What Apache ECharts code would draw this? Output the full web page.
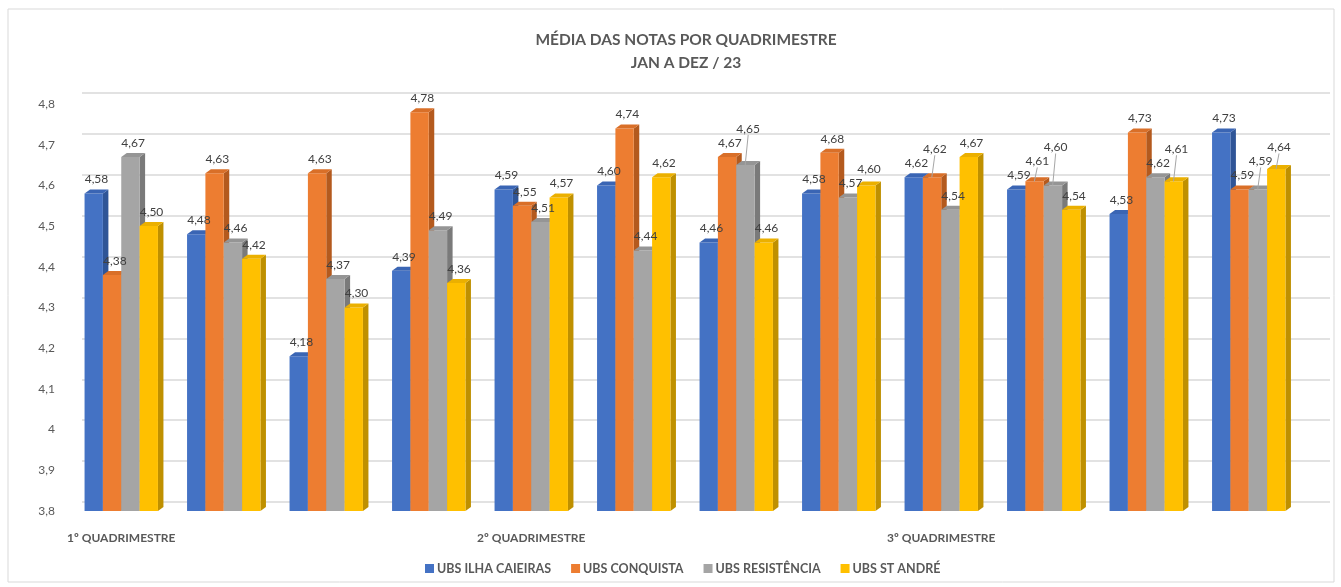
<!DOCTYPE html>
<html>
<head>
<meta charset="utf-8">
<title>Média das notas por quadrimestre</title>
<script src="https://cdn.jsdelivr.net/npm/echarts@6/dist/echarts.min.js"></script>
<style>
  html, body { margin: 0; padding: 0; background: #fff; }
  #chart { width: 1341px; height: 587px; }
</style>
</head>
<body>
<div id="chart"></div>
<script>
// categorias (meses), so alguns recebem o nome do quadrimestre
var categories = ['1º QUADRIMESTRE', '', '', '', '2º QUADRIMESTRE', '', '', '', '3º QUADRIMESTRE', '', '', ''];

var seriesNames = ['UBS ILHA CAIEIRAS', 'UBS CONQUISTA', 'UBS RESISTÊNCIA', 'UBS ST ANDRÉ'];

var ilhaCaieiras = [4.58, 4.48, 4.18, 4.39, 4.59, 4.60, 4.46, 4.58, 4.62, 4.59, 4.53, 4.73];
var conquista    = [4.38, 4.63, 4.63, 4.78, 4.55, 4.74, 4.67, 4.68, 4.62, 4.61, 4.73, 4.59];
var resistencia  = [4.67, 4.46, 4.37, 4.49, 4.51, 4.44, 4.65, 4.57, 4.54, 4.60, 4.62, 4.59];
var stAndre      = [4.50, 4.42, 4.30, 4.36, 4.57, 4.62, 4.46, 4.60, 4.67, 4.54, 4.61, 4.64];

var yTicks = [3.8, 3.9, 4.0, 4.1, 4.2, 4.3, 4.4, 4.5, 4.6, 4.7, 4.8];

var allSeries = [ilhaCaieiras, conquista, resistencia, stAndre];

// cores: frente, lateral, topo
var colors = [
  ['#4472C4', '#2F5597', '#3A65B4'],
  ['#ED7D31', '#B45A1E', '#D96F28'],
  ['#A5A5A5', '#7A7A7A', '#959595'],
  ['#FFC000', '#BF9000', '#EBB000']
];

var Y_MIN = yTicks[0];
var Y_MAX = yTicks[yTicks.length - 1];
var BAR_RATIO = 0.179;
var DX = 5.5;
var DY = 4;
var FONT = 'Lato, "Open Sans", sans-serif';

function fmt(v) {
  return (+v).toFixed(2).replace('.', ',');
}

let chart = echarts.init(document.getElementById('chart'));

// posicao vertical dos rotulos (evita sobreposicao com a barra vizinha)
function labelYs(api, idx) {
  let ys = [];
  for (let s = 0; s < allSeries.length; s++) {
    let top = api.coord([idx, allSeries[s][idx]])[1];
    let y = top - DY - 4;
    if (s > 0 && Math.abs(y - ys[s - 1]) < 14) {
      y = Math.min(y, ys[s - 1] - 14);
    }
    ys.push(y);
  }
  return ys;
}

function render3dBar(s) {
  return function (params, api) {
    let idx = api.value(0);
    let val = api.value(1);
    let band = api.size([1, 0])[0];
    let bw = band * BAR_RATIO;
    let base = api.coord([idx, Y_MIN]);
    let top = api.coord([idx, val]);
    let x0 = base[0] - 2 * bw + s * bw;
    let x1 = x0 + bw;
    let yt = top[1];
    let yb = base[1];
    let c = colors[s];

    let ys = labelYs(api, idx);
    let ly = ys[s];
    let lx = x0 + bw / 2 + DX / 2;
    let naturalY = yt - DY - 4;

    let children = [
      {
        type: 'polygon',
        shape: { points: [[x1, yt], [x1 + DX, yt - DY], [x1 + DX, yb - DY], [x1, yb]] },
        style: { fill: c[1] }
      },
      {
        type: 'rect',
        shape: { x: x0, y: yt, width: bw, height: yb - yt },
        style: { fill: c[0] }
      },
      {
        type: 'polygon',
        shape: { points: [[x0, yt], [x0 + DX, yt - DY], [x1 + DX, yt - DY], [x1, yt]] },
        style: { fill: c[2] }
      },
      {
        type: 'text',
        z2: 100,
        style: {
          text: fmt(val),
          x: lx,
          y: ly,
          align: 'center',
          verticalAlign: 'bottom',
          fill: '#404040',
          font: '12px ' + FONT
        }
      }
    ];
    if (naturalY - ly > 4) {
      children.push({
        type: 'line',
        z2: 99,
        shape: { x1: lx, y1: ly, x2: lx - 3, y2: yt - DY / 2 + 2 },
        style: { stroke: '#a6a6a6', lineWidth: 1 }
      });
    }
    return { type: 'group', children: children };
  };
}

let series = allSeries.map(function (arr, s) {
  return {
    name: seriesNames[s],
    type: 'custom',
    xAxisIndex: 0,
    yAxisIndex: 0,
    itemStyle: { color: colors[s][0] },
    renderItem: render3dBar(s),
    encode: { x: 0, y: 1 },
    data: arr.map(function (v, i) { return [i, v]; })
  };
});

let option = {
  backgroundColor: '#fff',
  animation: false,
  textStyle: { fontFamily: FONT },
  graphic: [{
    type: 'rect',
    shape: { x: 8, y: 9, width: 1326, height: 573 },
    style: { fill: 'none', stroke: '#d9d9d9', lineWidth: 1 },
    silent: true,
    z: -10
  }],
  title: {
    text: 'MÉDIA DAS NOTAS POR QUADRIMESTRE\nJAN A DEZ / 23',
    left: 681,
    textAlign: 'center',
    top: 23,
    textStyle: {
      fontFamily: FONT,
      fontSize: 15.5,
      fontWeight: 'bold',
      color: '#595959',
      lineHeight: 23
    }
  },
  legend: {
    bottom: 7,
    left: 420,
    icon: 'rect',
    itemWidth: 9,
    itemHeight: 9,
    itemGap: 20,
    textStyle: { fontFamily: FONT, fontSize: 12.5, fontWeight: 'bold', color: '#595959', padding: [0, 0, 0, -2] },
    data: seriesNames
  },
  grid: [
    { left: 70, right: 41, top: 104, bottom: 76 },
    // parede de fundo (linhas de grade deslocadas, efeito 3D)
    { left: 82, right: 11, top: 93, bottom: 85 }
  ],
  xAxis: [
    {
      type: 'category',
      gridIndex: 0,
      data: categories,
      axisLine: { show: false },
      axisTick: { show: false },
      axisLabel: {
        interval: 0,
        margin: 21,
        fontFamily: FONT,
        fontSize: 12,
        fontWeight: 'bold',
        color: '#595959'
      }
    },
    {
      type: 'category',
      gridIndex: 1,
      data: categories,
      show: false
    }
  ],
  yAxis: [
    {
      type: 'value',
      gridIndex: 0,
      min: Y_MIN,
      max: Y_MAX,
      interval: 0.1,
      splitLine: { show: false },
      axisLine: { show: false },
      axisTick: { show: false },
      axisLabel: {
        margin: 15,
        fontFamily: FONT,
        fontSize: 12,
        color: '#595959',
        formatter: function (v) { return String(+v.toFixed(1)).replace('.', ','); }
      }
    },
    {
      type: 'value',
      gridIndex: 1,
      min: Y_MIN,
      max: Y_MAX,
      interval: 0.1,
      axisLine: { show: false },
      axisTick: { show: false },
      axisLabel: { show: false },
      splitLine: { lineStyle: { color: '#d9d9d9', width: 1.5 } }
    }
  ],
  series: series
};

chart.setOption(option);
</script>
</body>
</html>
